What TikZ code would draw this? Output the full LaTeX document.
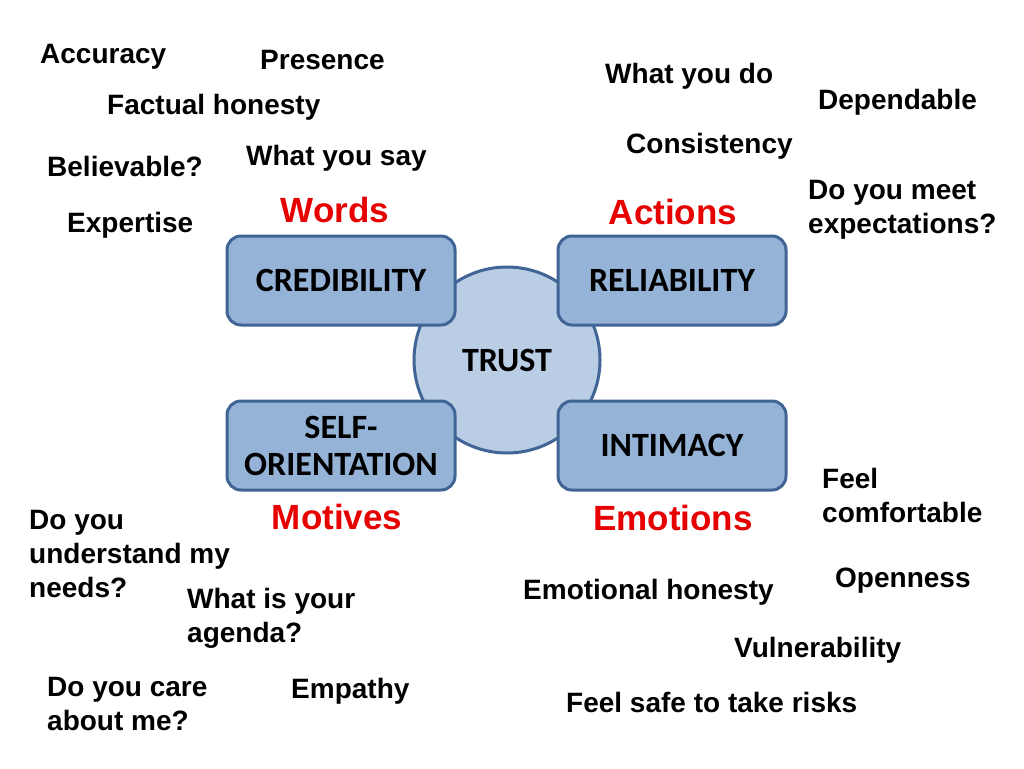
\documentclass[tikz,border=0pt]{standalone}
\usepackage{fontspec}
\setmainfont{Liberation Sans}
\newfontfamily\boxfont{Carlito}
\definecolor{boxfill}{RGB}{149,179,215}
\definecolor{boxline}{RGB}{65,100,150}
\definecolor{circfill}{RGB}{185,205,229}
\definecolor{lblred}{RGB}{230,0,0}
\begin{document}
\begin{tikzpicture}[x=1pt,y=-1pt,
  box/.style={draw=boxline, fill=boxfill, line width=3pt, rounded corners=14pt,
    minimum width=228pt, minimum height=89pt, inner sep=0pt, align=center,
    font=\boxfont\bfseries\fontsize{34}{37}\selectfont},
  hub/.style={draw=boxline, fill=circfill, line width=3pt, circle, minimum size=186pt, inner sep=0pt,
    font=\boxfont\bfseries\fontsize{34}{37}\selectfont},
  txt/.style={anchor=west, inner sep=0pt, align=left, yshift=-3pt, font=\bfseries\fontsize{28}{34}\selectfont},
  red/.style={inner sep=0pt, text=lblred, font=\bfseries\fontsize{35}{38}\selectfont}]
\useasboundingbox (0,0) rectangle (1024,768);
\fill[white] (0,0) rectangle (1024,768);
\node[hub] (trust) at (507,360) {TRUST};
\node[box] (cred) at (341,280.5) {CREDIBILITY};
\node[box] (rel) at (672,280.5) {RELIABILITY};
\node[box] (self) at (341,445.5) {SELF-\\ORIENTATION};
\node[box] (int) at (672,445.5) {INTIMACY};
% red labels
\node[red] (words) at (335,210) {Words};
\node[red] (actions) at (673,212) {Actions};
\node[red] (motives) at (337,517) {Motives};
\node[red] (emotions) at (673,518) {Emotions};
% words
\node[txt] (t1) at (40,54) {Accuracy};
\node[txt] (t2) at (260,57) {Presence};
\node[txt] (t3) at (107,104) {Factual honesty};
\node[txt] (t4) at (246,155) {What you say};
\node[txt] (t5) at (47,163) {Believable?};
\node[txt] (t6) at (67,222) {Expertise};
% actions
\node[txt] (t7) at (605,73) {What you do};
\node[txt] (t8) at (818,99) {Dependable};
\node[txt] (t9) at (626,143) {Consistency};
\node[txt] (t10) at (808,207) {Do you meet\\expectations?};
% emotions
\node[txt] (t11) at (822,492) {Feel\\comfortable};
\node[txt] (t12) at (835,578) {Openness};
\node[txt] (t13) at (523,589) {Emotional honesty};
\node[txt] (t14) at (734,647) {Vulnerability};
\node[txt] (t15) at (566,699) {Feel safe to take risks};
% motives
\node[txt] (t16) at (29,551) {Do you\\understand my\\needs?};
\node[txt] (t17) at (187,615.5) {What is your\\agenda?};
\node[txt] (t18) at (47,700.5) {Do you care\\about me?};
\node[txt] (t19) at (291,688) {Empathy};
\end{tikzpicture}
\end{document}
